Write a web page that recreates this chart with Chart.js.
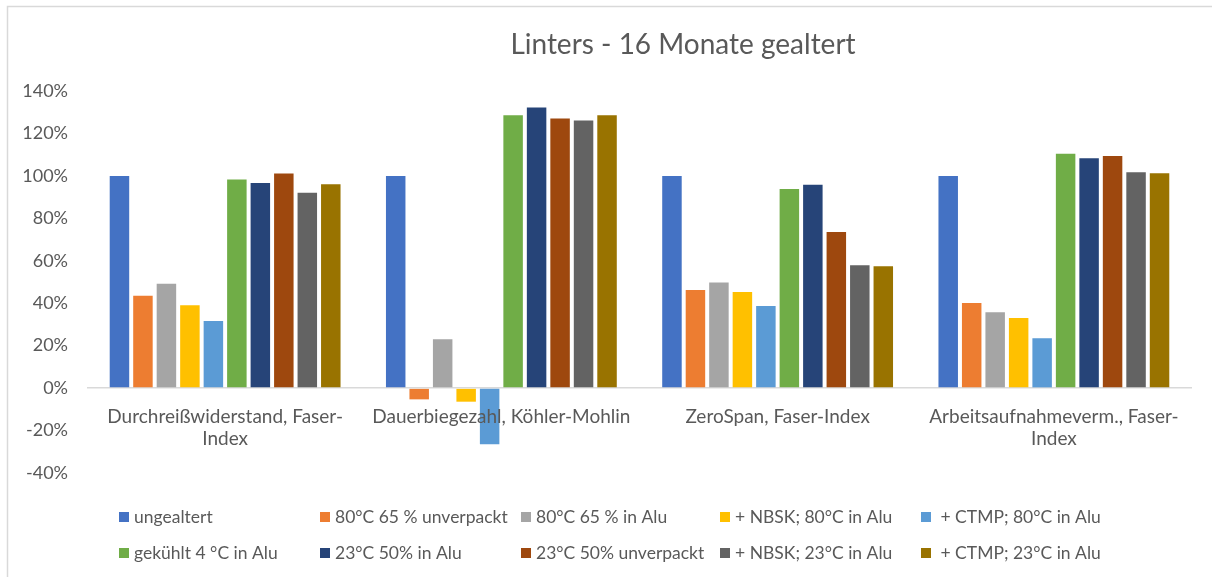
<!DOCTYPE html>
<html>
<head>
<meta charset="utf-8">
<script src="https://cdn.jsdelivr.net/npm/chart.js@4/dist/chart.umd.min.js"></script>
<style>
  html, body { margin: 0; padding: 0; background: #fff; }
  canvas { display: block; }
</style>
</head>
<body>
<canvas id="chart" width="1212" height="577"></canvas>
<script>
// categories (multi-line as in the original axis)
const categories = [
    ['Durchreißwiderstand, Faser-', 'Index'],
    ['Dauerbiegezahl, Köhler-Mohlin'],
    ['ZeroSpan, Faser-Index'],
    ['Arbeitsaufnahmeverm., Faser-', 'Index']
];

// series values in %
const ungealtert      = [100, 100, 100, 100];
const unverpackt80    = [43.5, -5.3, 46.2, 40.1];
const alu80           = [49.2, 23.0, 49.8, 35.7];
const nbsk80          = [39.0, -6.4, 45.3, 33.0];
const ctmp80          = [31.6, -26.4, 38.7, 23.5];
const gekuehlt4       = [98.3, 128.6, 93.8, 110.4];
const alu23           = [96.6, 132.2, 95.8, 108.3];
const unverpackt23    = [101.1, 127.0, 73.6, 109.4];
const nbsk23          = [92.1, 126.1, 57.9, 101.7];
const ctmp23          = [96.1, 128.6, 57.4, 101.3];

const yTicks = [-40, -20, 0, 20, 40, 60, 80, 100, 120, 140];

const seriesNames = [
    'ungealtert', '80°C 65 % unverpackt', '80°C 65 % in Alu', '+ NBSK; 80°C in Alu', ' + CTMP; 80°C in Alu',
    'gekühlt 4 °C in Alu', '23°C 50% in Alu', '23°C 50% unverpackt', '+ NBSK; 23°C in Alu', ' + CTMP; 23°C in Alu'
];
const seriesValues = [ungealtert, unverpackt80, alu80, nbsk80, ctmp80, gekuehlt4, alu23, unverpackt23, nbsk23, ctmp23];
const seriesColors = ['#4472C4', '#ED7D31', '#A5A5A5', '#FFC000', '#5B9BD5', '#70AD47', '#264478', '#9E480E', '#636363', '#997300'];

const FONT = 'Lato, "Open Sans", sans-serif';
const TEXT = '#595959';

// Excel-like decorations: frame, title, category labels next to 0, grid legend
const decor = {
    id: 'decor',
    afterDraw(chart) {
        const ctx = chart.ctx;
        const x = chart.scales.x, y = chart.scales.y;
        ctx.save();
        ctx.strokeStyle = '#d9d9d9';
        ctx.lineWidth = 1.5;
        ctx.strokeRect(7.5, 6.5, 1400, 800);

        ctx.fillStyle = TEXT;
        ctx.font = '28px ' + FONT;
        ctx.textAlign = 'center';
        ctx.textBaseline = 'alphabetic';
        ctx.fillText('Linters - 16 Monate gealtert', 683, 54);

        ctx.font = '19px ' + FONT;
        const zero = y.getPixelForValue(0);
        categories.forEach((lines, i) => {
            const cx = x.getPixelForValue(i);
            lines.forEach((ln, k) => ctx.fillText(ln, cx, zero + 35 + k * 22));
        });

        const cols = [119, 320, 521, 720, 921];
        const rows = [517, 553];
        ctx.font = '17.5px ' + FONT;
        ctx.textAlign = 'left';
        ctx.textBaseline = 'middle';
        seriesNames.forEach((name, i) => {
            const bx = cols[i % 5], by = rows[Math.floor(i / 5)];
            ctx.fillStyle = seriesColors[i];
            ctx.fillRect(bx, by - 5, 10, 10);
            ctx.fillStyle = TEXT;
            ctx.fillText(name, bx + 15, by);
        });
        ctx.restore();
    }
};

new Chart(document.getElementById('chart'), {
    type: 'bar',
    data: {
        labels: categories,
        datasets: seriesValues.map((vals, i) => ({
            label: seriesNames[i],
            data: vals,
            backgroundColor: seriesColors[i],
            borderWidth: 0,
            categoryPercentage: 0.85,
            barPercentage: 0.83
        }))
    },
    options: {
        responsive: false,
        animation: false,
        layout: { padding: { left: 0, top: 91, right: 20, bottom: 104 } },
        plugins: {
            legend: { display: false },
            title: { display: false },
            tooltip: { enabled: false }
        },
        scales: {
            x: { display: false },
            y: {
                min: -40,
                max: 140,
                afterFit: s => { s.width = 87; },
                afterBuildTicks: s => { s.ticks = yTicks.map(v => ({ value: v })); },
                border: { display: false },
                grid: {
                    drawTicks: false,
                    lineWidth: 1.5,
                    color: c => c.tick && c.tick.value === 0 ? '#d9d9d9' : 'rgba(0,0,0,0)'
                },
                ticks: {
                    padding: 19,
                    color: TEXT,
                    font: { family: FONT, size: 18 },
                    callback: v => v + '%'
                }
            }
        }
    },
    plugins: [decor]
});
</script>
</body>
</html>
